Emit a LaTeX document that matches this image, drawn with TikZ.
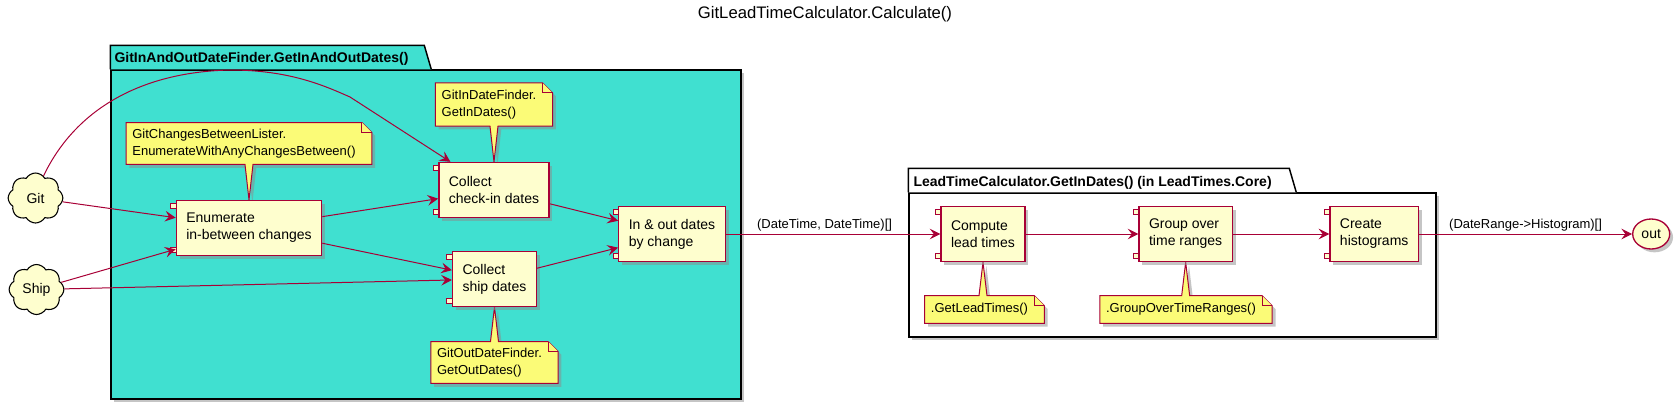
\documentclass[tikz,border=0pt]{standalone}
\usepackage{fontspec}
\setmainfont{Liberation Sans}
\usetikzlibrary{positioning,fit,calc,shapes.symbols,shapes.geometric,shadows,arrows.meta}
\definecolor{umlred}{HTML}{A80036}
\definecolor{umlfill}{HTML}{FEFECE}
\definecolor{notefill}{HTML}{FBFB77}
\definecolor{turq}{HTML}{40E0D0}
\pgfdeclarelayer{pkglayer}
\pgfdeclarelayer{notelayer}
\pgfsetlayers{pkglayer,notelayer,main}
\newcommand{\compfont}{\fontsize{10.5pt}{12.75pt}\selectfont}
\newcommand{\notefont}{\fontsize{9.75pt}{12.25pt}\selectfont}
\tikzset{
dropsh/.style = {drop shadow={shadow xshift=2.5pt, shadow yshift=-2.5pt, fill=black!45, opacity=0.5}},
comptab/.style = {draw=umlred, fill=umlfill, line width=0.8pt},
component/.style = {draw=umlred, fill=umlfill, line width=1pt, rectangle, align=left, font=\compfont, inner xsep=7.5pt, inner ysep=0pt, minimum height=41.25pt, dropsh,
  append after command={\pgfextra{
    \draw[comptab] ([shift={(-5,4)}]\tikzlastnode.north west) rectangle ++(10,5);
    \draw[comptab] ([shift={(-5,-9)}]\tikzlastnode.south west) rectangle ++(10,5);}}},
notetext/.style = {rectangle, align=left, font=\notefont, inner xsep=4.5pt, inner ysep=0pt},
notebox/.style = {draw=umlred, fill=notefill, line width=0.75pt},
source/.style = {cloud, cloud puffs=8, cloud puff arc=120, aspect=1.1, draw=black, fill=umlfill, line width=0.8pt, font=\compfont, inner sep=0pt, minimum width=41pt, minimum height=37.5pt},
sink/.style = {ellipse, draw=umlred, fill=umlfill, line width=1pt, font=\compfont, inner sep=0pt, minimum width=27.75pt, minimum height=22.5pt, dropsh},
pkgline/.style = {draw=black, line width=1.1pt},
pkglabel/.style = {font=\bfseries\compfont, inner sep=0pt, anchor=base west},
flow/.style = {draw=umlred, line width=0.75pt, ->},
flowlabel/.style = {font=\notefont, above, inner sep=1.5pt}
}
\begin{document}
\begin{tikzpicture}[x=0.75pt, y=-0.75pt, >={Stealth[length=8pt, width=8pt, inset=3pt]}]
    \useasboundingbox (0,0) rectangle (1679,411);

    \node[anchor=base, font=\fontsize{12.5pt}{15pt}\selectfont] (title) at (825,18) {GitLeadTimeCalculator.Calculate()};

    % packages
    \coordinate (ioNW) at (111,70);
    \coordinate (ioSE) at (741,399);
    \coordinate (ltNW) at (909,193);
    \coordinate (ltSE) at (1436,337);
    \begin{pgfonlayer}{pkglayer}
      \node[pkgline, fill=turq, dropsh, fit=(ioNW)(ioSE), inner sep=0pt] (pkgIO) {};
      \draw[pkgline, fill=turq] (pkgIO.north west) -- ++(0,-24) -- ++(314,0) -- ++(7,24);
      \node[pkgline, fill=white, dropsh, fit=(ltNW)(ltSE), inner sep=0pt] (pkgLT) {};
      \draw[pkgline, fill=white] (pkgLT.north west) -- ++(0,-24) -- ++(381,0) -- ++(7,24);
    \end{pgfonlayer}
    \node[pkglabel] (pkgIOname) at ([shift={(4,-7)}]pkgIO.north west) {GitInAndOutDateFinder.GetInAndOutDates()};
    \node[pkglabel] (pkgLTname) at ([shift={(5,-6)}]pkgLT.north west) {LeadTimeCalculator.GetInDates() (in LeadTimes.Core)};

    % inputs
    \node[source] (git) at (35.5,198) {Git};
    \node[source] (ship) at (36.5,289.5) {Ship};

    % components
    \node[component] (enum) at (249,228) {Enumerate\\in-between changes};
    \node[component] (checkin) at (494,190) {Collect\\check-in dates};
    \node[component] (shipd) at (494.5,279) {Collect\\ship dates};
    \node[component] (inout) at (672,234) {In \& out dates\\by change};
    \node[component] (lead) at (983,234) {Compute\\lead times};
    \node[component, right of=lead, node distance=152pt] (group) {Group over\\time ranges};
    \node[component, right of=group, node distance=141.4pt] (hist) {Create\\histograms};
    \node[sink, right of=hist, node distance=207.75pt] (out) {out};

    % notes
    \node[notetext, minimum height=31pt] (nEnum) at (244,143.5) {GitChangesBetweenLister.\\EnumerateWithAnyChangesBetween()};
    \node[notetext, minimum height=32pt] (nIn) at (489,104.5) {GitInDateFinder.\\GetInDates()};
    \node[notetext, minimum height=31pt] (nOut) at (489.5,362.5) {GitOutDateFinder.\\GetOutDates()};
    \node[notetext, minimum height=20.25pt] (nLead) at (979.5,309.5) {.GetLeadTimes()};
    \node[notetext, minimum height=20.25pt] (nGroup) at (1181,309.5) {.GroupOverTimeRanges()};

    \begin{pgfonlayer}{notelayer}
      \draw[notebox, dropsh] (nEnum.north west) -- (nEnum.north east) -- ([shift={(10,10)}]nEnum.north east) -- ([shift={(10,0)}]nEnum.south east)
        -- ($(nEnum.south -| enum.north)+(4,0)$) -- (enum.north) -- ($(nEnum.south -| enum.north)+(-4,0)$) -- (nEnum.south west) -- cycle;
      \draw[notebox] (nEnum.north east) |- ([shift={(10,10)}]nEnum.north east);

      \draw[notebox, dropsh] (nIn.north west) -- (nIn.north east) -- ([shift={(10,10)}]nIn.north east) -- ([shift={(10,0)}]nIn.south east)
        -- ($(nIn.south -| checkin.north)+(4,0)$) -- (checkin.north) -- ($(nIn.south -| checkin.north)+(-4,0)$) -- (nIn.south west) -- cycle;
      \draw[notebox] (nIn.north east) |- ([shift={(10,10)}]nIn.north east);

      \draw[notebox, dropsh] (nOut.north west) -- ($(nOut.north -| shipd.south)+(-4,0)$) -- (shipd.south) -- ($(nOut.north -| shipd.south)+(4,0)$)
        -- (nOut.north east) -- ([shift={(10,10)}]nOut.north east) -- ([shift={(10,0)}]nOut.south east) -- (nOut.south west) -- cycle;
      \draw[notebox] (nOut.north east) |- ([shift={(10,10)}]nOut.north east);

      \draw[notebox, dropsh] (nLead.north west) -- ($(nLead.north -| lead.south)+(-4,0)$) -- (lead.south) -- ($(nLead.north -| lead.south)+(4,0)$)
        -- (nLead.north east) -- ([shift={(10,10)}]nLead.north east) -- ([shift={(10,0)}]nLead.south east) -- (nLead.south west) -- cycle;
      \draw[notebox] (nLead.north east) |- ([shift={(10,10)}]nLead.north east);

      \draw[notebox, dropsh] (nGroup.north west) -- ($(nGroup.north -| group.south)+(-4,0)$) -- (group.south) -- ($(nGroup.north -| group.south)+(4,0)$)
        -- (nGroup.north east) -- ([shift={(10,10)}]nGroup.north east) -- ([shift={(10,0)}]nGroup.south east) -- (nGroup.south west) -- cycle;
      \draw[notebox] (nGroup.north east) |- ([shift={(10,10)}]nGroup.north east);
    \end{pgfonlayer}

    % connectors
    \coordinate (arcTop) at (230,70);
    \coordinate (arcBend) at (350,97);
    \draw[flow] (git.70) .. controls (75,110) and (140,72) .. (arcTop) .. controls (290,70) and (325,86) .. (arcBend) -- (checkin);
    \draw[flow] (git) -- (enum);
    \draw[flow] (ship) -- (enum);
    \draw[flow] (ship) -- (shipd);
    \draw[flow] (enum) -- (checkin);
    \draw[flow] (enum) -- (shipd);
    \draw[flow] (checkin) -- (inout);
    \draw[flow] (shipd) -- (inout);
    \draw[flow] (inout) -- node[flowlabel, pos=0.46] {(DateTime, DateTime)[]} (lead);
    \draw[flow] (lead) -- (group);
    \draw[flow] (group) -- (hist);
    \draw[flow] (hist) -- node[flowlabel] {(DateRange->Histogram)[]} (out);

\end{tikzpicture}
\end{document}
